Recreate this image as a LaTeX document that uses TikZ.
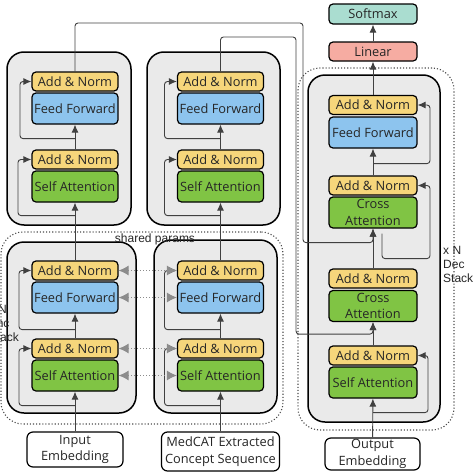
\documentclass[tikz,border=0pt]{standalone}
\usepackage{fontspec}
\setmainfont{Open Sans}
\newfontfamily\labfont{Liberation Sans}
\usetikzlibrary{calc,arrows.meta}
\definecolor{normyellow}{RGB}{246,214,123}
\definecolor{ffblue}{RGB}{141,196,238}
\definecolor{attgreen}{RGB}{128,196,68}
\definecolor{smteal}{RGB}{170,221,208}
\definecolor{linpink}{RGB}{246,172,162}
\definecolor{stackgray}{RGB}{234,234,234}

\begin{document}
\begin{tikzpicture}[x=1pt,y=-1pt,font=\fontsize{12.8}{16.5}\selectfont,
  stackbox/.style={draw,line width=1.5pt,fill=stackgray,rounded corners=17pt,minimum height=173pt},
  groupbox/.style={draw=black!70,dotted,line width=1.1pt,rounded corners=22pt},
  blk/.style={draw,line width=1.2pt,rounded corners=4pt,inner sep=0pt,text=black!85,align=center,minimum width=86pt},
  norm/.style={blk,fill=normyellow,minimum height=19pt},
  ffwd/.style={blk,fill=ffblue,minimum height=31pt},
  attn/.style={blk,fill=attgreen,minimum height=31pt},
  embed/.style={blk,fill=white,rounded corners=6pt},
  flow/.style={draw=black!75,line width=0.9pt,-{Latex[length=8pt,width=7pt]}},
  skipline/.style={flow,rounded corners=3pt},
  share/.style={draw=black!45,dotted,line width=1pt,{Latex[length=10pt,width=10pt]}-{Latex[length=10pt,width=10pt]}},
  lab/.style={font=\labfont\fontsize{12}{14}\selectfont,inner sep=0pt,text=black!85}]
  \useasboundingbox (0,0) rectangle (474,474);

  \node[groupbox,minimum width=282pt,minimum height=192pt] (encgroup) at (142,328) {};
  \node[groupbox,minimum width=156pt,minimum height=362pt] (decgroup) at (376,249) {};

  \node[stackbox,minimum width=124pt] (enc1) at (69,138.5) {};
  \node[stackbox,minimum width=133pt] (enc2) at (213.5,138.5) {};
  \node[stackbox,minimum width=129pt,minimum height=171pt] (enc3) at (71.5,327.5) {};
  \node[stackbox,minimum width=123pt] (enc4) at (215.5,326.5) {};
  \node[stackbox,minimum width=132pt,minimum height=347pt] (dec) at (374,248.5) {};

  \node[norm] (e1an) at (75,81.5) {Add \& Norm};
  \node[ffwd] (e1ff) at (75,108.5) {Feed Forward};
  \node[norm] (e1an2) at (75,159.5) {Add \& Norm};
  \node[attn] (e1sa) at (75,186.5) {Self Attention};

  \node[norm] (e2an) at (220.5,81.5) {Add \& Norm};
  \node[ffwd] (e2ff) at (220.5,108.5) {Feed Forward};
  \node[norm] (e2an2) at (220.5,159.5) {Add \& Norm};
  \node[attn] (e2sa) at (220.5,186.5) {Self Attention};

  \node[norm] (e3an) at (75,270.5) {Add \& Norm};
  \node[ffwd] (e3ff) at (75,297.5) {Feed Forward};
  \node[norm] (e3an2) at (75,348.5) {Add \& Norm};
  \node[attn] (e3sa) at (75,375.5) {Self Attention};

  \node[norm] (e4an) at (220.5,270.5) {Add \& Norm};
  \node[ffwd] (e4ff) at (220.5,297.5) {Feed Forward};
  \node[norm] (e4an2) at (220.5,348.5) {Add \& Norm};
  \node[attn] (e4sa) at (220.5,375.5) {Self Attention};

  \node[blk,fill=smteal,minimum width=88pt,minimum height=20pt] (softmax) at (373,14) {Softmax};
  \node[blk,fill=linpink,minimum width=88pt,minimum height=19pt] (linear) at (373,51.5) {Linear};
  \node[norm,minimum width=88pt] (dan3) at (373,105) {Add \& Norm};
  \node[ffwd,minimum width=88pt] (dff) at (373,132.5) {Feed Forward};
  \node[norm,minimum width=88pt] (dan2) at (373,185.5) {Add \& Norm};
  \node[attn,minimum width=88pt] (dca2) at (373,212.5) {Cross\\Attention};
  \node[norm,minimum width=88pt] (dan1) at (373,278.5) {Add \& Norm};
  \node[attn,minimum width=88pt] (dca1) at (373,306) {Cross\\Attention};
  \node[norm,minimum width=88pt] (dan0) at (373,355.5) {Add \& Norm};
  \node[attn,minimum width=88pt] (dsa) at (373,382.5) {Self Attention};

  \node[embed,minimum width=96pt,minimum height=35pt] (inemb) at (75,449.5) {Input\\Embedding};
  \node[embed,minimum width=118pt,minimum height=39pt] (medcat) at (220.5,451.5) {MedCAT Extracted\\Concept Sequence};
  \node[embed,minimum width=95pt,minimum height=32pt] (outemb) at (372.5,454) {Output\\Embedding};

  \node[lab] (shared) at (155,239) {shared params};
  \node[lab,align=left,anchor=north east] (enclab) at (19,305.5) {x N\\Enc\\Stack};
  \node[lab,align=left,anchor=north west] (declab) at (443,246) {x N\\Dec\\Stack};

  \draw[flow] (inemb) -- (e3sa);
  \draw[flow] (e3an2) -- (e3ff);
  \draw[flow] (e3an) -- (e1sa);
  \draw[flow] (e1an2) -- (e1ff);
  \draw[flow] (medcat) -- (e4sa);
  \draw[flow] (e4an2) -- (e4ff);
  \draw[flow] (e4an) -- (e2sa);
  \draw[flow] (e2an2) -- (e2ff);

  \draw[skipline] ($(e1sa.south)+(0,13)$) -- ++(-57,0) |- (e1an2.west);
  \draw[skipline] ($(e1ff.south)+(0,14)$) -- ++(-55,0) |- (e1an.west);
  \draw[skipline] ($(e2sa.south)+(0,13)$) -- ++(-56,0) |- (e2an2.west);
  \draw[skipline] ($(e2ff.south)+(0,14)$) -- ++(-56,0) |- (e2an.west);
  \draw[skipline] ($(e3sa.south)+(0,14)$) -- ++(-56,0) |- (e3an2.west);
  \draw[skipline] ($(e3ff.south)+(0,16)$) -- ++(-56,0) |- (e3an.west);
  \draw[skipline] ($(e4sa.south)+(0,14)$) -- ++(-56,0) |- (e4an2.west);
  \draw[skipline] ($(e4ff.south)+(0,16)$) -- ++(-56,0) |- (e4an.west);

  \draw[share] (e3an.east) -- (e4an.west);
  \draw[share] (e3ff.east) -- (e4ff.west);
  \draw[share] (e3an2.east) -- (e4an2.west);
  \draw[share] (e3sa.east) -- (e4sa.west);

  \draw[flow] (outemb) -- (dsa);
  \draw[flow] (dan0) -- (dca1);
  \draw[flow] (dan1) -- (dca2);
  \draw[flow] (dan2) -- (dff);
  \draw[flow] (dan3) -- (linear);
  \draw[flow] (linear) -- (softmax);

  \draw[skipline] ($(dsa.south)+(0,14)$) -- ++(55,0) |- (dan0.east);
  \draw[skipline] ($(dca2.south)+(9,5)$) |- ++(48,25) |- (dan2.east);
  \draw[skipline] ($(dff.south)+(0,15)$) -- ++(57,0) |- (dan3.east);

  \draw[skipline] (e1an.north) |- (303,23) |- ($(dca2.south)+(0,14)$) -- (dca2.south);
  \draw[skipline] (e2an.north) |- (296,37) |- ($(dca1.south)+(0,12)$) -- (dca1.south);
\end{tikzpicture}
\end{document}
